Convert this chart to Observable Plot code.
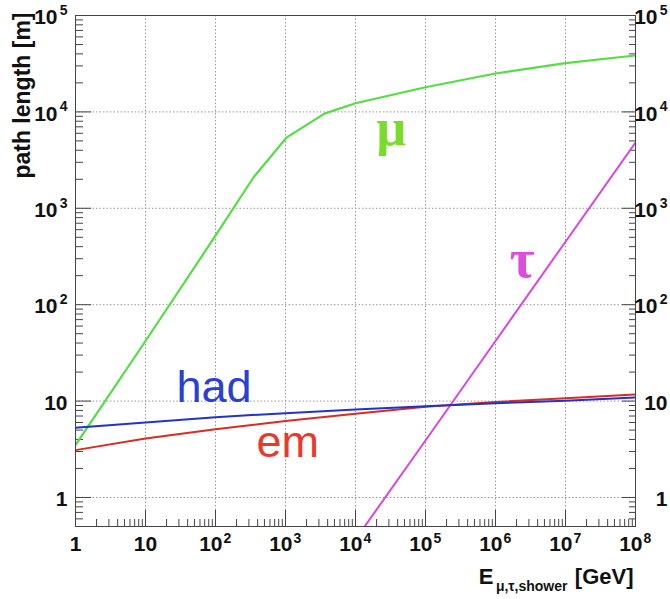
<!DOCTYPE html>
<html><head><meta charset="utf-8">
<script src="https://cdn.jsdelivr.net/npm/d3@7"></script>
<script src="https://cdn.jsdelivr.net/npm/@observablehq/plot@0.6"></script>
<style>body{margin:0;background:#fff;} svg{display:block;}</style>
</head><body><div id="chart"></div>
<script>
// ---- data ----
const muE  = [1, 10, 100, 350, 1030, 3600, 1e4, 1e5, 1e6, 1e7, 1e8];
const muL  = [3.5, 42, 520, 2100, 5400, 9600, 12300, 18000, 25000, 32000, 38500];
const tauE = [1.35e4, 1e5, 1e6, 1e7, 1e8];
const tauL = [0.5, 3.9, 42, 450, 4800];
const hadE = [1, 10, 100, 1e3, 1e4, 1e5, 1e6, 1e7, 1e8];
const hadL = [5.3, 6.0, 6.8, 7.5, 8.2, 8.85, 9.5, 10.1, 10.9];
const emE  = [1, 10, 100, 1e3, 1e4, 1e5, 1e6, 1e7, 1e8];
const emL  = [3.1, 4.1, 5.1, 6.2, 7.4, 8.75, 9.8, 10.7, 11.7];

const labelText = ["μ", "τ", "had", "em"];
const labelE    = [2e4, 1.6e6, 27.7, 385];
const labelL    = [6800, 290, 13.8, 3.72];

const xMajor = [1, 10, 1e2, 1e3, 1e4, 1e5, 1e6, 1e7, 1e8];
const xTickBase = ["1", "10", "10", "10", "10", "10", "10", "10", "10"];
const xTickExp  = ["", "", "2", "3", "4", "5", "6", "7", "8"];
const yMajor = [1, 10, 1e2, 1e3, 1e4, 1e5];
const yTickBase = ["1", "10", "10", "10", "10", "10"];
const yTickExp  = ["", "", "2", "3", "4", "5"];

const xTitleMain = "E", xTitleSub = "μ,τ,shower", xTitleUnit = "[GeV]";
const yTitle = "path length [m]";

// ---- styles ----
const C = {mu: "#55dd44", tau: "#dd44dd", had: "#2233cc", em: "#dd2a22"};
const labelColor = ["#77dd2a", "#dd4ddd", "#2a3fd8", "#e83a2a"];
const labelFont = ["Liberation Serif, serif", "Liberation Serif, serif", "Liberation Sans, Arial, sans-serif", "Liberation Sans, Arial, sans-serif"];
const labelSize = [52, 54, 45, 45];
const labelWeight = ["bold", "bold", "normal", "normal"];
const axisColor = "#444";
const FONT = "Liberation Sans, Arial, Helvetica, sans-serif";

// minor tick positions
const xMinor = [];
for (let k = 0; k < 8; k++) for (let m = 2; m <= 9; m++) xMinor.push(m * 10 ** k);
const yMinor = [0.5, 0.6, 0.7, 0.8, 0.9];
for (let k = 0; k < 5; k++) for (let m = 2; m <= 9; m++) yMinor.push(m * 10 ** k);

const series = (E, L) => E.map((e, i) => ({e, l: L[i]}));
const idx = (a) => a.map((_, i) => i);
const xPow = idx(xMajor).filter(i => xTickExp[i] !== "");
const xPlain = idx(xMajor).filter(i => xTickExp[i] === "");
const yPow = idx(yMajor).filter(i => yTickExp[i] !== "");
const yPlain = idx(yMajor).filter(i => yTickExp[i] === "");

const tickTxt = {fill: "#111", fontWeight: "bold", fontFamily: FONT};

const labelMarks = idx(labelText).map(i =>
  Plot.text([i], {x: j => labelE[j], y: j => labelL[j], text: j => labelText[j],
    fill: labelColor[i], fontFamily: labelFont[i], fontSize: labelSize[i],
    fontWeight: labelWeight[i], textAnchor: "start"}));

const chart = Plot.plot({
  width: 670, height: 599,
  marginLeft: 75, marginRight: 35, marginTop: 15, marginBottom: 73,
  style: {fontFamily: FONT, background: "#fff"},
  x: {type: "log", domain: [1, 1e8]},
  y: {type: "log", domain: [0.5, 1e5]},
  marks: [
    Plot.gridX({ticks: xMajor, stroke: "#999", strokeOpacity: 1, strokeDasharray: "1.5,2"}),
    Plot.gridY({ticks: yMajor, stroke: "#999", strokeOpacity: 1, strokeDasharray: "1.5,2"}),
    // inward ROOT-style ticks
    Plot.axisX({ticks: xMajor, anchor: "bottom", tickSize: -16, fill: "none", stroke: axisColor}),
    Plot.axisX({ticks: xMinor, anchor: "bottom", tickSize: -7, fill: "none", stroke: axisColor}),
    Plot.axisY({ticks: yMajor, anchor: "left", tickSize: -16, fill: "none", stroke: axisColor}),
    Plot.axisY({ticks: yMinor, anchor: "left", tickSize: -8, fill: "none", stroke: axisColor}),
    Plot.axisY({ticks: yMajor, anchor: "right", tickSize: -14, fill: "none", stroke: axisColor}),
    Plot.axisY({ticks: yMinor, anchor: "right", tickSize: -7, fill: "none", stroke: axisColor}),
    // curves
    Plot.line(series(muE, muL), {x: "e", y: "l", stroke: C.mu, strokeWidth: 2.2, clip: true}),
    Plot.line(series(tauE, tauL), {x: "e", y: "l", stroke: C.tau, strokeWidth: 2, clip: true}),
    Plot.line(series(emE, emL), {x: "e", y: "l", stroke: C.em, strokeWidth: 2, clip: true}),
    Plot.line(series(hadE, hadL), {x: "e", y: "l", stroke: C.had, strokeWidth: 2, clip: true}),
    // curve labels
    ...labelMarks,
    Plot.frame({stroke: axisColor, strokeWidth: 1}),
    // x tick labels
    Plot.text(xPlain, {x: i => xMajor[i], frameAnchor: "bottom", dy: 24, text: i => xTickBase[i], fontSize: 21, ...tickTxt}),
    Plot.text(xPow, {x: i => xMajor[i], frameAnchor: "bottom", dy: 24, dx: 7, textAnchor: "end", text: i => xTickBase[i], fontSize: 21, ...tickTxt}),
    Plot.text(xPow, {x: i => xMajor[i], frameAnchor: "bottom", dy: 16, dx: 8, textAnchor: "start", text: i => xTickExp[i], fontSize: 14, ...tickTxt}),
    // left y tick labels
    Plot.text(yPlain, {y: i => yMajor[i], frameAnchor: "left", dx: -8, dy: 2, textAnchor: "end", text: i => yTickBase[i], fontSize: 21, ...tickTxt}),
    Plot.text(yPow, {y: i => yMajor[i], frameAnchor: "left", dx: -18, dy: 2, textAnchor: "end", text: i => yTickBase[i], fontSize: 21, ...tickTxt}),
    Plot.text(yPow, {y: i => yMajor[i], frameAnchor: "left", dx: -8, dy: -5, textAnchor: "end", text: i => yTickExp[i], fontSize: 14, ...tickTxt}),
    // right y tick labels
    Plot.text(yPlain, {y: i => yMajor[i], frameAnchor: "right", dx: 32, dy: 2, textAnchor: "end", text: i => yTickBase[i], fontSize: 21, ...tickTxt}),
    Plot.text(yPow, {y: i => yMajor[i], frameAnchor: "right", dx: 22, dy: 2, textAnchor: "end", text: i => yTickBase[i], fontSize: 21, ...tickTxt}),
    Plot.text(yPow, {y: i => yMajor[i], frameAnchor: "right", dx: 32, dy: -5, textAnchor: "end", text: i => yTickExp[i], fontSize: 14, ...tickTxt}),
    // axis titles
    Plot.text([xTitleUnit], {frameAnchor: "bottom-right", dx: -2, dy: 57, textAnchor: "end", text: d => d, fontSize: 22, ...tickTxt}),
    Plot.text([xTitleSub], {frameAnchor: "bottom-right", dx: -68, dy: 64, textAnchor: "end", text: d => d, fontSize: 14, ...tickTxt}),
    Plot.text([xTitleMain], {frameAnchor: "bottom-right", dx: -142, dy: 57, textAnchor: "end", text: d => d, fontSize: 22, ...tickTxt}),
    Plot.text([yTitle], {frameAnchor: "top-left", dx: -62, dy: -3, rotate: -90, textAnchor: "end", text: d => d, fontSize: 23, ...tickTxt})
  ]
});
document.getElementById("chart").append(chart);
</script>
</body></html>
